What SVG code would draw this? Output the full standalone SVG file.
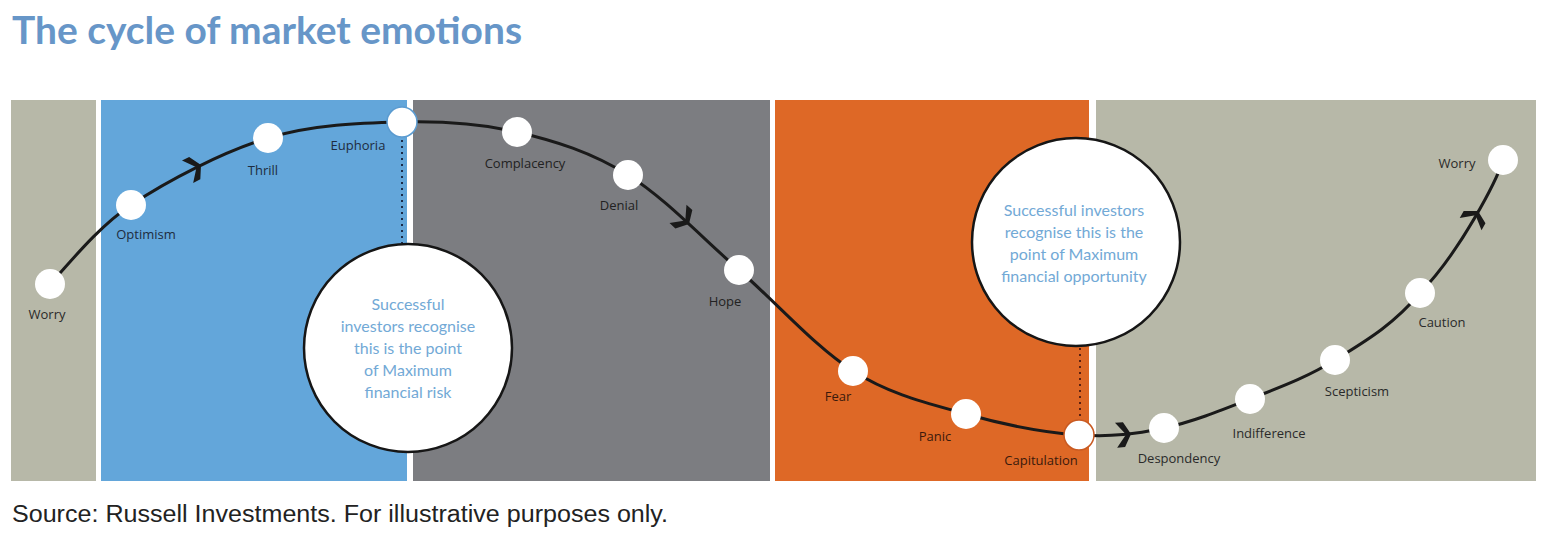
<svg xmlns="http://www.w3.org/2000/svg" width="1545" height="545" viewBox="0 0 1545 545">
<style>
.title{font-family:Lato,"Open Sans",sans-serif;font-weight:bold;font-size:38px;fill:#6796c8}
.lbl{font-family:"Open Sans","Noto Sans",sans-serif;font-size:13px;text-anchor:middle}
.node{fill:#ffffff}
.big{fill:#ffffff;stroke:#161616;stroke-width:2.5}
.ct{font-family:Lato,"Open Sans",sans-serif;font-size:16px;fill:#72a9d6;text-anchor:middle}
.src{font-family:"Liberation Sans",Arial,sans-serif;font-size:23px;fill:#222222}
.curve{fill:none;stroke:#1a1a1a;stroke-width:3}
.dot{fill:none;stroke-width:2;stroke-dasharray:2 4}
.chev{fill:#1a1a1a;stroke:none}
</style>
<defs>
<path id="chev" class="chev" d="M 0,0 L -7,-12.5 L -15,-12.5 L -5,0 L -15,12.5 L -7,12.5 Z"/>
</defs>
<rect width="1545" height="545" fill="#ffffff"/>
<text class="title" x="12" y="44" textLength="510" lengthAdjust="spacingAndGlyphs">The cycle of market emotions</text>
<g id="panels">
<rect x="11" y="100" width="85" height="381" fill="#b7b8a8"/>
<rect x="101" y="100" width="306" height="381" fill="#63a6da"/>
<rect x="413" y="100" width="357" height="381" fill="#7c7d81"/>
<rect x="775" y="100" width="314" height="381" fill="#de6826"/>
<rect x="1096" y="100" width="440" height="381" fill="#b7b8a8"/>
</g>
<g id="connectors">
<path class="curve" d="M50,284 C63.5,270.8 94.7,229.3 131,205 C167.3,180.7 222.8,151.8 268,138 C313.2,124.2 360.5,123 402,122 C443.5,121 479.3,123.2 517,132 C554.7,140.8 591,152 628,175 C665,198 701.5,237.3 739,270 C776.5,302.7 815.2,347 853,371 C890.8,395 928.3,403.3 966,414 C1003.7,424.7 1046,432.7 1079,435 C1112,437.3 1135.5,434 1164,428 C1192.5,422 1221.5,410.3 1250,399 C1278.5,387.7 1306.7,377.7 1335,360 C1363.3,342.3 1392,326.3 1420,293 C1460,252 1497,180 1503,160"/>
<use href="#chev" transform="translate(201,165) rotate(-26.5)"/>
<use href="#chev" transform="translate(689,224) rotate(42.7)"/>
<use href="#chev" transform="translate(1131,434) rotate(-5)"/>
<use href="#chev" transform="translate(1478,211) rotate(-60.6)"/>
<line class="dot" x1="402" y1="140" x2="402" y2="243" stroke="#1b2a48"/>
<line class="dot" x1="1080" y1="348" x2="1080" y2="420" stroke="#5a2010"/>
</g>
<g id="risk-circle">
<circle class="big" cx="408" cy="348" r="104"/>
<text class="ct" x="408" y="310">Successful</text>
<text class="ct" x="408" y="332">investors recognise</text>
<text class="ct" x="408" y="354">this is the point</text>
<text class="ct" x="408" y="376">of Maximum</text>
<text class="ct" x="408" y="398">financial risk</text>
</g>
<g id="opportunity-circle">
<circle class="big" cx="1076" cy="242" r="104"/>
<text class="ct" x="1074" y="216">Successful investors</text>
<text class="ct" x="1074" y="238">recognise this is the</text>
<text class="ct" x="1074" y="260">point of Maximum</text>
<text class="ct" x="1074" y="282">financial opportunity</text>
</g>
<g id="n-worry1"><circle class="node" cx="50" cy="284" r="15"/><text class="lbl" x="47" y="319" fill="#2a2a2a">Worry</text></g>
<g id="n-optimism"><circle class="node" cx="131" cy="205" r="15"/><text class="lbl" x="146" y="239" fill="#1e2c40">Optimism</text></g>
<g id="n-thrill"><circle class="node" cx="268" cy="138" r="15"/><text class="lbl" x="263" y="175" fill="#1e2c40">Thrill</text></g>
<g id="n-euphoria"><circle class="node" cx="402" cy="122" r="15" stroke="#5b9bd0" stroke-width="1.5"/><text class="lbl" x="358" y="150" fill="#1e2c40">Euphoria</text></g>
<g id="n-complacency"><circle class="node" cx="517" cy="132" r="15"/><text class="lbl" x="525" y="168" fill="#222">Complacency</text></g>
<g id="n-denial"><circle class="node" cx="628" cy="175" r="15"/><text class="lbl" x="619" y="210" fill="#222">Denial</text></g>
<g id="n-hope"><circle class="node" cx="739" cy="270" r="15"/><text class="lbl" x="725" y="306" fill="#222">Hope</text></g>
<g id="n-fear"><circle class="node" cx="853" cy="371" r="15"/><text class="lbl" x="838" y="401" fill="#3a1a0c">Fear</text></g>
<g id="n-panic"><circle class="node" cx="966" cy="414" r="15"/><text class="lbl" x="935" y="441" fill="#3a1a0c">Panic</text></g>
<g id="n-capitulation"><circle class="node" cx="1079" cy="435" r="15" stroke="#c85a22" stroke-width="1.5"/><text class="lbl" x="1041" y="465" fill="#3a1a0c">Capitulation</text></g>
<g id="n-despondency"><circle class="node" cx="1164" cy="428" r="15"/><text class="lbl" x="1179" y="463" fill="#2a2a2a">Despondency</text></g>
<g id="n-indifference"><circle class="node" cx="1250" cy="399" r="15"/><text class="lbl" x="1269" y="438" fill="#2a2a2a">Indifference</text></g>
<g id="n-scepticism"><circle class="node" cx="1335" cy="360" r="15"/><text class="lbl" x="1357" y="396" fill="#2a2a2a">Scepticism</text></g>
<g id="n-caution"><circle class="node" cx="1420" cy="293" r="15"/><text class="lbl" x="1442" y="327" fill="#2a2a2a">Caution</text></g>
<g id="n-worry2"><circle class="node" cx="1503" cy="160" r="15"/><text class="lbl" x="1457" y="168" fill="#2a2a2a">Worry</text></g>
<text class="src" x="12" y="522" textLength="656" lengthAdjust="spacingAndGlyphs">Source: Russell Investments. For illustrative purposes only.</text>
</svg>
